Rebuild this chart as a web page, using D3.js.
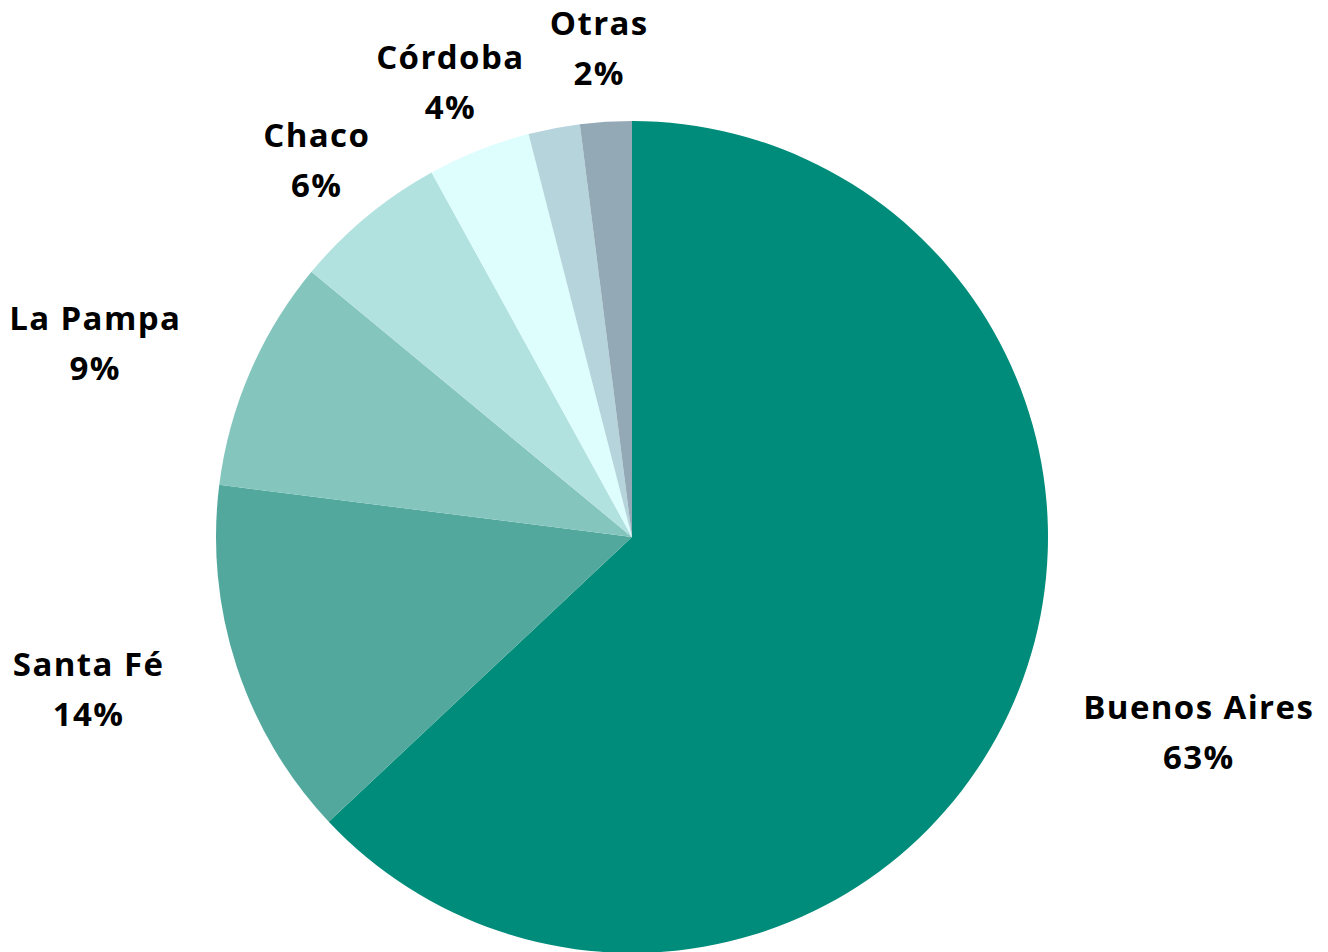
<!DOCTYPE html>
<html>
<head>
<meta charset="utf-8">
<script src="https://cdn.jsdelivr.net/npm/d3@7/dist/d3.min.js"></script>
<style>
  html, body { margin: 0; padding: 0; background: #ffffff; }
  svg { display: block; }
  .lbl { font-family: "Open Sans", "Noto Sans", sans-serif; font-weight: 700; font-size: 33px; letter-spacing: 1.4px; fill: #000; }
</style>
</head>
<body>
<svg id="chart" width="1328" height="952"></svg>
<script>
// Provincias y su participación (%)
const provincias = ["Buenos Aires", "Santa Fé", "La Pampa", "Chaco", "Córdoba", "", "Otras"];
const participacion = [63, 14, 9, 6, 4, 2, 2];
const colores = ["#008C7A", "#52A89C", "#84C5BE", "#B2E2E0", "#DEFDFD", "#B6D4DC", "#94A9B6"];
// horizontal nudge for each label, in px
const labelNudge = [56, -52, -53, 0, 8, -2];

const cx = 632, cy = 537, r = 416;

const data = provincias.map((p, i) => ({ name: p, value: participacion[i], color: colores[i] }));

const svg = d3.select("#chart");
const g = svg.append("g").attr("transform", `translate(${cx},${cy})`);

const pie = d3.pie().value(d => d.value).sort(null);
const arc = d3.arc().innerRadius(0).outerRadius(r);
const arcs = pie(data);

g.selectAll("path.slice")
  .data(arcs)
  .join("path")
  .attr("class", "slice")
  .attr("d", arc)
  .attr("fill", d => d.data.color);

// labels outside each slice
const labels = g.selectAll("g.label")
  .data(arcs.filter(d => d.data.name !== ""))
  .join("g")
  .attr("class", "label");

labels.each(function(d, i) {
  const sel = d3.select(this);
  const t1 = sel.append("text").attr("class", "lbl").attr("text-anchor", "middle")
    .attr("dominant-baseline", "central").text(d.data.name);
  const t2 = sel.append("text").attr("class", "lbl").attr("text-anchor", "middle")
    .attr("dominant-baseline", "central").text(d.data.value + "%");
  const w = Math.max(t1.node().getComputedTextLength(), t2.node().getComputedTextLength());
  const h = 98;
  const a = (d.startAngle + d.endAngle) / 2;
  const ux = Math.sin(a), uy = -Math.cos(a);
  const gap = 25;
  const x = ux * (r + gap) + ux * w / 2 + labelNudge[i];
  const y = uy * (r + gap) + uy * h / 2;
  t1.attr("x", x).attr("y", y - 25);
  t2.attr("x", x).attr("y", y + 25);
});
</script>
</body>
</html>
